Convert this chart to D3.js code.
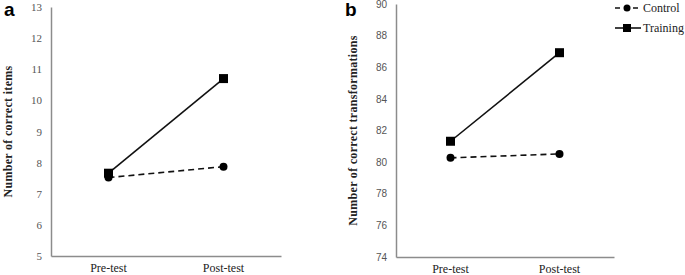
<!DOCTYPE html>
<html><head><meta charset="utf-8">
<script src="https://cdn.jsdelivr.net/npm/d3@7/dist/d3.min.js"></script>
<style>body{margin:0;background:#fff}svg{display:block}</style>
</head><body>
<script>
const categories = ["Pre-test", "Post-test"];
const seriesNames = ["Control", "Training"];
const controlA = [7.52, 7.87];
const trainingA = [7.66, 10.7];
const controlB = [80.27, 80.52];
const trainingB = [81.32, 86.92];
const ticksA = [5, 6, 7, 8, 9, 10, 11, 12, 13];
const ticksB = [74, 76, 78, 80, 82, 84, 86, 88, 90];

const W = 685, H = 275;
const svg = d3.select("body").append("svg").attr("width", W).attr("height", H);
const serif = "'Liberation Serif', 'Times New Roman', serif";
const sans = "'Liberation Sans', Arial, sans-serif";
const axisColor = "#8c8c8c";

function panel(cfg) {
  const g = svg.append("g");
  const x = d3.scaleBand().domain(categories).range([cfg.x0, cfg.x1]).padding(0);
  const y = d3.scaleLinear().domain(cfg.domain).range([cfg.yb, cfg.yt]);
  const cx = c => x(c) + x.bandwidth() / 2;

  const ya = g.append("g").attr("transform", `translate(${cfg.x0},0)`)
    .attr("font-family", cfg.tickFont)
    .call(d3.axisLeft(y).tickValues(cfg.ticks).tickSize(0).tickPadding(9).tickFormat(d3.format("d")));
  ya.attr("font-family", cfg.tickFont).attr("font-size", cfg.tickSize);
  ya.select(".domain").attr("stroke", axisColor).attr("stroke-width", 1.5);
  ya.selectAll("text").attr("font-family", cfg.tickFont).attr("font-size", cfg.tickSize).attr("fill", "#555");

  const xa = g.append("g").attr("transform", `translate(0,${cfg.yb})`)
    .call(d3.axisBottom(x).tickSize(0).tickPadding(7.5));
  xa.attr("font-family", serif).attr("font-size", 12);
  xa.select(".domain").attr("stroke", axisColor).attr("stroke-width", 1.5);
  xa.selectAll("text").attr("font-family", serif).attr("font-size", 12).attr("fill", "#222");

  g.append("text").attr("transform", `translate(${cfg.labelX},${(cfg.yb + cfg.yt) / 2}) rotate(-90)`)
    .attr("text-anchor", "middle").attr("font-family", serif).attr("font-weight", "bold")
    .attr("font-size", 12).attr("letter-spacing", 0.3).attr("fill", "#222").text(cfg.label);

  g.append("text").attr("x", cfg.letterX).attr("y", 16).attr("font-family", sans)
    .attr("font-weight", "bold").attr("font-size", 19).attr("fill", "#000").text(cfg.letter);

  const line = d3.line().x((d, i) => cx(categories[i])).y(d => y(d));
  g.append("path").datum(cfg.control).attr("d", line).attr("fill", "none")
    .attr("stroke", "#111").attr("stroke-width", 1.6).attr("stroke-dasharray", "6,4");
  g.append("path").datum(cfg.training).attr("d", line).attr("fill", "none")
    .attr("stroke", "#111").attr("stroke-width", 1.6);

  g.selectAll(".sq").data(cfg.training).join("rect")
    .attr("x", (d, i) => cx(categories[i]) - 4.5).attr("y", d => y(d) - 4.5)
    .attr("width", 9).attr("height", 9).attr("fill", "#000");
  g.selectAll(".ci").data(cfg.control).join("circle")
    .attr("cx", (d, i) => cx(categories[i])).attr("cy", d => y(d)).attr("r", 4).attr("fill", "#000");
}

panel({x0: 51, x1: 281, yb: 256, yt: 7, domain: [5, 13], ticks: ticksA,
  control: controlA, training: trainingA, label: "Number of correct items",
  labelX: 12, letter: "a", letterX: 4, tickFont: serif, tickSize: 11});
panel({x0: 396, x1: 614, yb: 257, yt: 4, domain: [74, 90], ticks: ticksB,
  control: controlB, training: trainingB, label: "Number of correct transformations",
  labelX: 357, letter: "b", letterX: 345, tickFont: sans, tickSize: 10});

// legend
const leg = svg.append("g");
const rows = [{name: seriesNames[0], y: 8, dash: "5,4", marker: "circle"},
              {name: seriesNames[1], y: 28, dash: null, marker: "square"}];
rows.forEach(r => {
  const l = leg.append("line").attr("x1", 615).attr("x2", 641).attr("y1", r.y).attr("y2", r.y)
    .attr("stroke", "#111").attr("stroke-width", 1.6);
  if (r.dash) l.attr("stroke-dasharray", r.dash);
  if (r.marker === "circle") leg.append("circle").attr("cx", 627).attr("cy", r.y).attr("r", 3.5).attr("fill", "#000");
  else leg.append("rect").attr("x", 623).attr("y", r.y - 4).attr("width", 8).attr("height", 8).attr("fill", "#000");
  leg.append("text").attr("x", 643).attr("y", r.y + 4).attr("font-family", serif).attr("font-size", 12)
    .attr("fill", "#222").text(r.name);
});
</script>
</body></html>
